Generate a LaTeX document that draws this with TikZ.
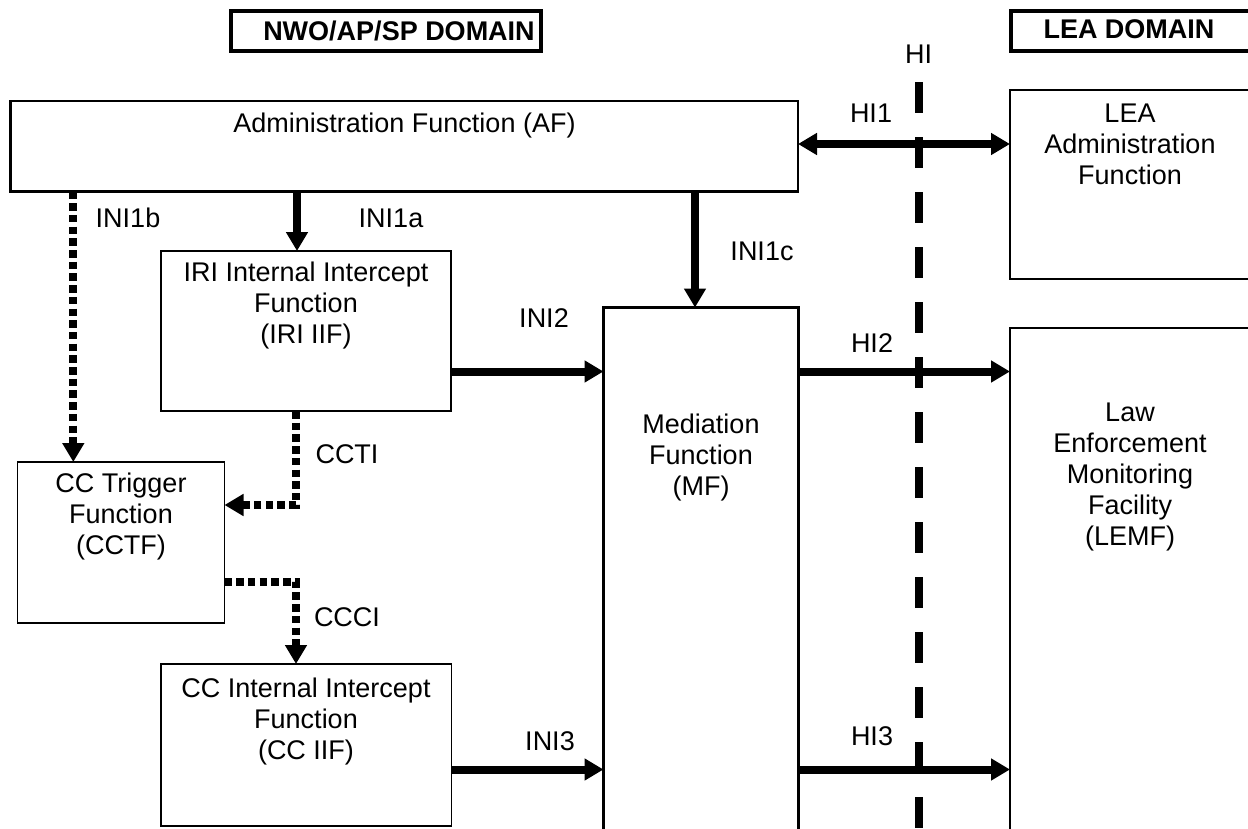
\documentclass[tikz,border=0pt]{standalone}
\usepackage{fontspec}
\setmainfont{Liberation Sans}
\usetikzlibrary{arrows.meta}
\newcommand{\fl}{\rule{0pt}{22pt}}
\begin{document}
\begin{tikzpicture}[x=1pt,y=-1pt,
  box/.style={draw, rectangle, anchor=north west, inner sep=0pt, outer sep=0pt, line width=#1},
  box/.default=1.6pt,
  txt/.style={font=\fontsize{27}{31}\selectfont, align=center, inner sep=0pt},
  btxt/.style={font=\fontsize{27}{31}\selectfont\bfseries, inner sep=0pt, anchor=base},
  lbl/.style={txt, anchor=base},
  mtxt/.style={txt, anchor=north},
  arr/.style={line width=8pt, -{Triangle[length=19pt,width=21pt]}},
  dotarr/.style={arr, dash pattern=on 7.5pt off 4.2pt},
  hiline/.style={line width=8pt, dash pattern=on 31pt off 24pt}]
\useasboundingbox (0,0) rectangle (1248,828);
\clip (0,0) rectangle (1248,828);
\fill[white] (0,0) rectangle (1248,828);

% domain headers
\node[box=4pt, minimum width=309.5pt, minimum height=40pt] (nwo) at (231,11) {};
\node[btxt] (nwot) at (399,40) {NWO/AP/SP DOMAIN};
\node[box=4pt, minimum width=260pt, minimum height=40pt] (leadom) at (1011,11) {};
\node[btxt] (leadomt) at (1129,38.5) {LEA DOMAIN};

% boxes
\node[box=2.2pt, minimum width=787.5pt, minimum height=90.5pt] (af) at (10.5,101) {};
\node[lbl] (aft) at (404.5,132) {Administration Function (AF)};

\node[box=2pt, minimum width=260pt, minimum height=189pt] (leaadm) at (1010,90) {};
\node[mtxt] (leaadmt) at (1130,100) {\fl LEA\\Administration\\Function};

\node[box, minimum width=290pt, minimum height=160pt] (iri) at (161,251) {};
\node[mtxt] (irit) at (306,259) {\fl IRI Internal Intercept\\Function\\(IRI IIF)};

\node[box, minimum width=207pt, minimum height=161pt] (cctf) at (17.5,462) {};
\node[mtxt] (cctft) at (121,470) {\fl CC Trigger\\Function\\(CCTF)};

\node[box=2.2pt, minimum width=195pt, minimum height=542.5pt] (mf) at (603.5,307.5) {};
\node[mtxt] (mft) at (701,411) {\fl Mediation\\Function\\(MF)};

\node[box=2pt, minimum width=260pt, minimum height=522pt] (lemf) at (1010,328) {};
\node[mtxt] (lemft) at (1130,399) {\fl Law\\Enforcement\\Monitoring\\Facility\\(LEMF)};

\node[box, minimum width=290.5pt, minimum height=162pt] (cciif) at (161,664) {};
\node[mtxt] (cciift) at (306,675) {\fl CC Internal Intercept\\Function\\(CC IIF)};

% helper coordinates
\coordinate (xa) at (297,0);
\coordinate (xb) at (73.3,0);
\coordinate (xc) at (695,0);
\coordinate (xt) at (296,0);
\coordinate (y1) at (0,144);
\coordinate (y2) at (0,371.5);
\coordinate (y3) at (0,769.5);
\coordinate (yt) at (0,505);
\coordinate (yc) at (0,582);
\coordinate (hitop) at (919,82);
\coordinate (hibot) at (919,845);

% connectors
\draw[arr] (af.south -| xa) -- (iri.north -| xa);
\draw[dotarr] (af.south -| xb) -- (cctf.north -| xb);
\draw[arr] (af.south -| xc) -- (mf.north -| xc);
\draw[line width=8pt, {Triangle[length=19pt,width=21pt]}-{Triangle[length=19pt,width=21pt]}] (af.east |- y1) -- (leaadm.west |- y1);
\draw[arr] (iri.east |- y2) -- (mf.west |- y2);
\draw[arr] (mf.east |- y2) -- (lemf.west |- y2);
\draw[arr] (cciif.east |- y3) -- (mf.west |- y3);
\draw[arr] (mf.east |- y3) -- (lemf.west |- y3);
\draw[dotarr] (iri.south -| xt) -- (xt |- yt) -- (cctf.east |- yt);
\draw[dotarr] (cctf.east |- yc) -- (xt |- yc) -- (cciif.north -| xt);
\draw[hiline] (hitop) -- (hibot);

% labels
\node[lbl] (hil) at (918.5,63) {HI};
\node[lbl] (hi1) at (871,122) {HI1};
\node[lbl] (hi2) at (872,352) {HI2};
\node[lbl] (hi3) at (872,745) {HI3};
\node[lbl] (ini1b) at (128,227) {INI1b};
\node[lbl] (ini1a) at (391,227) {INI1a};
\node[lbl] (ini1c) at (762,260) {INI1c};
\node[lbl] (ini2) at (544,327) {INI2};
\node[lbl] (ini3) at (550,750) {INI3};
\node[lbl] (ccti) at (347,463) {CCTI};
\node[lbl] (ccci) at (347,626) {CCCI};
\end{tikzpicture}
\end{document}
